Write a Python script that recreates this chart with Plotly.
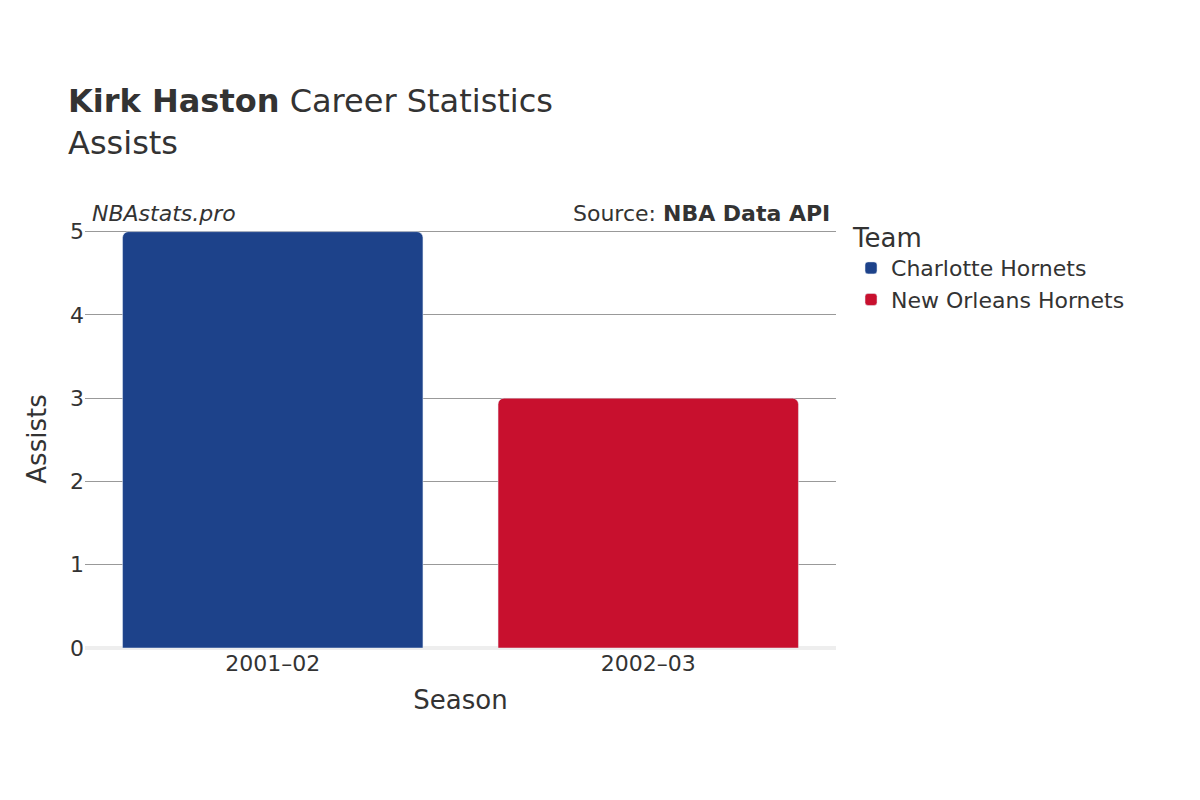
import plotly.graph_objects as go

seasons = ["2001–02", "2002–03"]
teams = ["Charlotte Hornets", "New Orleans Hornets"]
assists = [5, 3]
colors = ["#1d428a", "#c8102e"]

fig = go.Figure()
for s, t, a, c in zip(seasons, teams, assists, colors):
    fig.add_trace(go.Bar(x=[s], y=[a], name=t, marker_color=c, width=0.8))

fig.update_layout(
    width=1200, height=800,
    font=dict(family="DejaVu Sans", color="#333", size=20),
    plot_bgcolor="white", paper_bgcolor="white",
    margin=dict(l=77, r=372, t=222, b=160),
    barcornerradius=6,
    title=dict(text="<b>Kirk Haston</b> Career Statistics<br>Assists",
               x=0.05, xanchor="left", y=0.87, yanchor="bottom",
               font=dict(size=32)),
    legend=dict(title=dict(text="Team", font=dict(size=26)),
                x=1.02, y=1.04, xanchor="left", yanchor="top",
                font=dict(size=22)),
    xaxis=dict(title=dict(text="Season", font=dict(size=26)), tickfont=dict(size=22)),
    yaxis=dict(title=dict(text="Assists", font=dict(size=26)), tickfont=dict(size=22),
               range=[0, 5.02], dtick=1, gridcolor="#999", zeroline=True,
               zerolinecolor="#eee", zerolinewidth=4),
    annotations=[
        dict(text="<i>NBAstats.pro</i>", xref="paper", yref="paper", x=0.007, y=1.04,
             xanchor="left", yanchor="middle", showarrow=False, font=dict(size=22)),
        dict(text="Source: <b>NBA Data API</b>", xref="paper", yref="paper", x=0.995, y=1.04,
             xanchor="right", yanchor="middle", showarrow=False, font=dict(size=22)),
    ],
)
fig.write_html("out.html")
